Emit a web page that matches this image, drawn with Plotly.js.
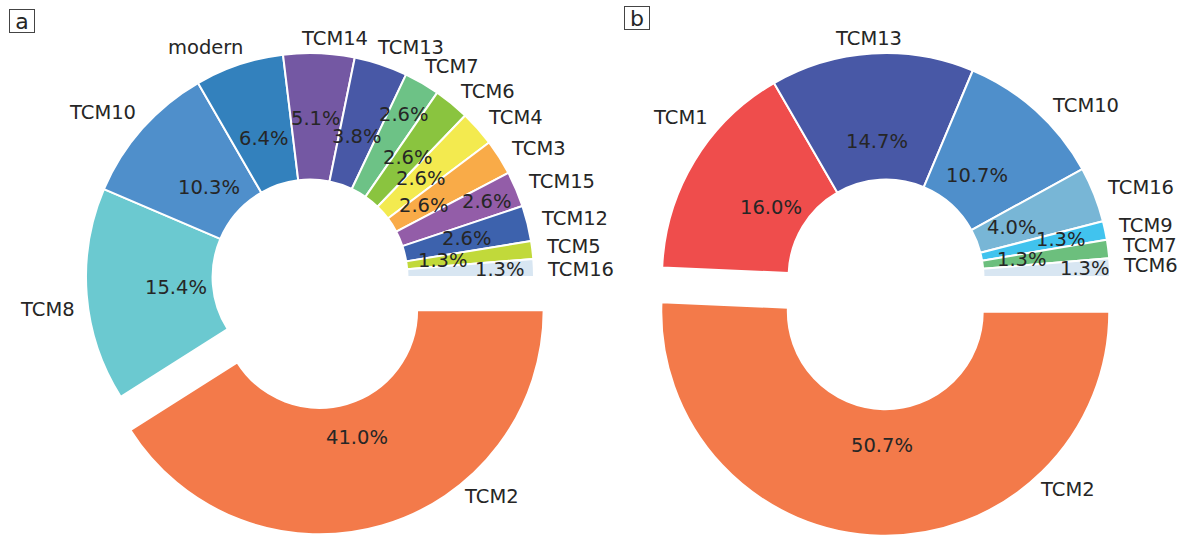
<!DOCTYPE html>
<html>
<head>
<meta charset="utf-8">
<script src="https://cdn.plot.ly/plotly-3.0.1.min.js"></script>
<style>
html,body{margin:0;padding:0;background:#ffffff;}
#chart{width:1185px;height:536px;}
</style>
</head>
<body>
<div id="chart"></div>
<script>
// ---------------- data ----------------
// Panel a (counts, total 78) — clockwise from 3 o'clock
const labelsA = ['TCM2','TCM8','TCM10','modern','TCM14','TCM13','TCM7','TCM6','TCM4','TCM3','TCM15','TCM12','TCM5','TCM16'];
const countsA = [32, 12, 8, 5, 4, 3, 2, 2, 2, 2, 2, 2, 1, 1];
// Panel b (counts, total 75) — clockwise from 3 o'clock
const labelsB = ['TCM2','TCM1','TCM13','TCM10','TCM16','TCM9','TCM7','TCM6'];
const countsB = [38, 12, 11, 8, 3, 1, 1, 1];
const explodedLabel = 'TCM2';
const panelTags = ['a', 'b'];

// ---------------- styles ----------------
const colorsA = ['#F37A4A','#6BC9D0','#4F8FCB','#3381BD','#7458A3','#4858A6','#6DC286','#8AC43F','#F3EA4F','#F9AB48','#935DA8','#3D62AD','#C1D93A','#D8E6F2'];
const colorsB = ['#F37A4A','#EF4D4C','#4858A6','#4F8FCB','#78B6D6','#41C3EE','#6CBF7D','#D8E6F2'];
// label placement tweaks (angle nudges in degrees, radial distance of % text as fraction of radius)
const labelNudgeA = [21.3, 3.7, -1.5, -2.1, -3.6, 2.1, 1.4, 0, 0, 0, 0, 0, 0, -0.9];
const labelNudgeB = [41.9, -10.4, 0.6, -2.5, 0, 0, 0, 0];
const pctDistA = [0.593, 0.60, 0.60, 0.65, 0.71, 0.66, 0.84, 0.69, 0.66, 0.60, 0.86, 0.72, 0.60, 0.85];
const pctDistB = [0.596, 0.60, 0.607, 0.61, 0.606, 0.80, 0.61, 0.89];

const W = 1185, H = 536;
const R = 224, HOLE = 0.435, PULL = 0.155, LABEL_DIST = 1.06;
const centers = [{cx: 310, cy: 277}, {cx: 886, cy: 277}];
const FONT = {family: 'DejaVu Sans', size: 19.5, color: '#262626'};

function domainFor(c) {
  const boxH = R * (2 + 2 * PULL);
  const boxW = boxH + 20;
  const y0 = 1 - (c.cy + boxH / 2) / H;
  return {x: [(c.cx - boxW / 2) / W, (c.cx + boxW / 2) / W], y: [y0, y0 + boxH / H]};
}

function makeTrace(labels, counts, colors, c) {
  return {
    type: 'pie', labels: labels, values: counts, sort: false,
    direction: 'clockwise', rotation: 90, hole: HOLE,
    pull: labels.map(l => l === explodedLabel ? PULL : 0),
    marker: {colors: colors, line: {color: '#ffffff', width: 2}},
    textinfo: 'none', hoverinfo: 'label+percent', showlegend: false,
    domain: domainFor(c)
  };
}

function makeAnnotations(labels, counts, nudges, pctDist, c) {
  const total = counts.reduce((a, b) => a + b, 0);
  const anns = [];
  let cum = 0;
  counts.forEach((v, i) => {
    const mid = -(cum + v / 2) / total * 2 * Math.PI; // math angle, ccw from +x
    cum += v;
    let ox = c.cx, oy = c.cy;
    if (labels[i] === explodedLabel) {
      ox += PULL * R * Math.cos(mid);
      oy -= PULL * R * Math.sin(mid);
    }
    // percentage text
    const pr = pctDist[i] * R;
    anns.push({
      xref: 'paper', yref: 'paper',
      x: (ox + pr * Math.cos(mid)) / W, y: 1 - (oy - pr * Math.sin(mid)) / H,
      text: (v / total * 100).toFixed(1) + '%', showarrow: false,
      xanchor: 'center', yanchor: 'middle', font: FONT, borderpad: 0, borderwidth: 0
    });
    // label text
    const la = mid + nudges[i] * Math.PI / 180;
    const lr = LABEL_DIST * R;
    const cl = Math.cos(la);
    anns.push({
      xref: 'paper', yref: 'paper',
      x: (ox + lr * cl) / W, y: 1 - (oy - lr * Math.sin(la)) / H,
      text: labels[i], showarrow: false, yshift: 2,
      xanchor: Math.abs(cl) < 0.15 ? 'center' : (cl > 0 ? 'left' : 'right'), yanchor: 'middle',
      font: FONT, borderpad: 0, borderwidth: 0
    });
  });
  return anns;
}

const traces = [
  makeTrace(labelsA, countsA, colorsA, centers[0]),
  makeTrace(labelsB, countsB, colorsB, centers[1])
];

let annotations = []
  .concat(makeAnnotations(labelsA, countsA, labelNudgeA, pctDistA, centers[0]))
  .concat(makeAnnotations(labelsB, countsB, labelNudgeB, pctDistB, centers[1]));

const tagPos = [{x: 22, y: 20.5}, {x: 636.7, y: 18}];
panelTags.forEach((t, i) => {
  annotations.push({
    xref: 'paper', yref: 'paper', x: tagPos[i].x / W, y: 1 - tagPos[i].y / H,
    text: t, showarrow: false, xanchor: 'center', yanchor: 'middle',
    font: {family: 'DejaVu Sans', size: 22, color: '#262626'},
    bordercolor: '#444444', borderwidth: 1, borderpad: 0, width: 24, height: 22
  });
});

const layout = {
  width: W, height: H,
  margin: {l: 0, r: 0, t: 0, b: 0},
  paper_bgcolor: '#ffffff', plot_bgcolor: '#ffffff',
  showlegend: false,
  annotations: annotations
};

Plotly.newPlot('chart', traces, layout, {displayModeBar: false, staticPlot: true});
</script>
</body>
</html>
